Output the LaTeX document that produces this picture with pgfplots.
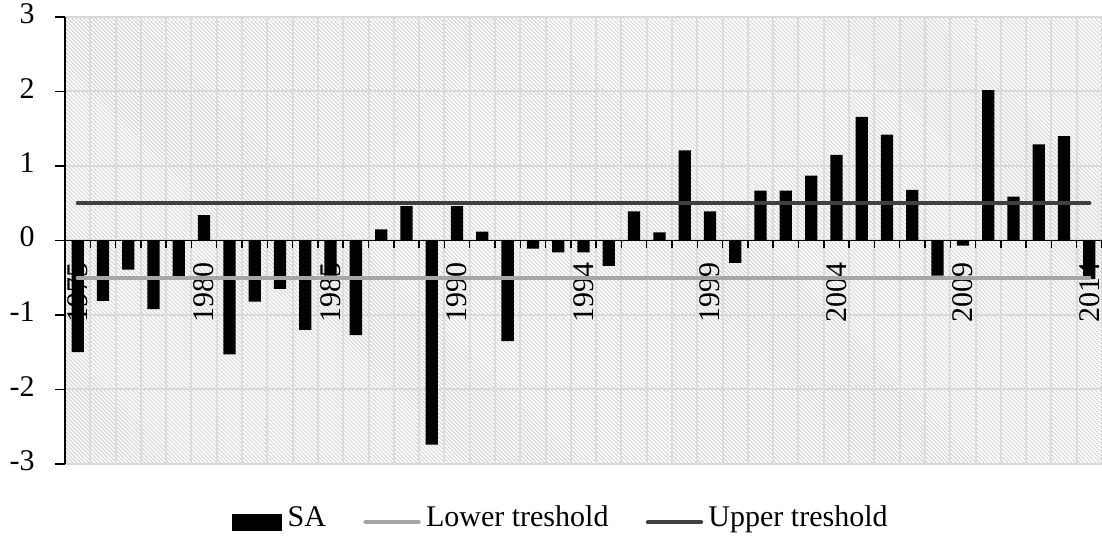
\documentclass[border=0pt]{standalone}
\usepackage{fontspec}
\setmainfont{Liberation Serif}
\usepackage{pgfplots}
\usepackage{pgfplotstable}
\pgfplotsset{compat=1.18}
\usetikzlibrary{patterns.meta}

\definecolor{upperline}{HTML}{404040}
\definecolor{lowerline}{HTML}{A6A6A6}
\definecolor{gridgray}{HTML}{D9D9D9}
\definecolor{vgridgray}{HTML}{DCDCDC}
\definecolor{hatchgray}{HTML}{D2D2D2}

% SA index per year (category 0 = 1975)
\pgfplotstableread{
idx sa
0 -1.50
1 -0.81
2 -0.39
3 -0.92
4 -0.48
5 0.34
6 -1.53
7 -0.82
8 -0.65
9 -1.20
10 -0.47
11 -1.27
12 0.15
13 0.46
14 -2.74
15 0.46
16 0.12
17 -1.35
18 -0.11
19 -0.16
20 -0.16
21 -0.34
22 0.39
23 0.11
24 1.21
25 0.39
26 -0.30
27 0.67
28 0.67
29 0.87
30 1.15
31 1.66
32 1.42
33 0.68
34 -0.47
35 -0.07
36 2.02
37 0.59
38 1.29
39 1.40
40 -0.52
}\satable

\newcommand{\chartfont}{\fontsize{22.5}{27}\selectfont}

\begin{document}
\begin{tikzpicture}
\begin{axis}[
  set layers,
  at={(48.75pt,58.5pt)}, anchor=south west,
  scale only axis, width=777.75pt, height=335.25pt,
  xmin=-0.5, xmax=40.5, ymin=-3, ymax=3,
  axis x line=middle, axis y line=left,
  axis line style={-, black, line width=1.1pt},
  axis background/.style={pattern={Lines[angle=-45,distance=2.12pt,line width=0.7pt]}, pattern color=hatchgray},
  xtick={0,5,...,40},
  xticklabels={1975,1980,1985,1990,1994,1999,2004,2009,2014},
  minor xtick={-0.5,0.5,...,40.5},
  ytick={-3,-2,...,3},
  yticklabels={-3,-2,-1,0,1,2,3},
  major x tick style={draw=none},
  tick align=outside,
  major tick length=7.5pt,
  minor tick length=6pt,
  tick style={black, line width=1.1pt},
  xminorgrids=true, xmajorgrids=false, ymajorgrids=true,
  x grid style={vgridgray, line width=1.5pt},
  y grid style={gridgray, line width=1.5pt},
  tick label style={font=\chartfont},
  xticklabel style={yshift=-9pt, rotate=90, anchor=east, inner sep=0pt},
  yticklabel style={xshift=-15pt, yshift=2.5pt, anchor=east, inner sep=0pt},
  legend columns=-1,
  legend style={draw=none, fill=none,
    at={(axis description cs:0.477,-0.13)}, anchor=center,
    font=\chartfont,
    nodes={inner sep=0pt, text depth=0pt, text height=0.68em},
    /tikz/every odd column/.append style={column sep=4pt},
    /tikz/every even column/.append style={column sep=28pt}},
]
\addplot[ybar, bar width=9.2pt, fill=black, draw=none,
  legend image code/.code={\fill[black] (0pt,-6.4pt) rectangle (38pt,6.4pt);}]
  table[x=idx, y=sa] {\satable};
\addlegendentry{SA}
\addplot[lowerline, line width=3pt, line cap=round,
  legend image code/.code={\draw[lowerline, line width=3pt, line cap=round] (0pt,0pt) -- (40pt,0pt);}]
  coordinates {(0,-0.5) (40,-0.5)};
\addlegendentry{Lower treshold}
\addplot[upperline, line width=3pt, line cap=round,
  legend image code/.code={\draw[upperline, line width=3pt, line cap=round] (0pt,0pt) -- (40pt,0pt);}]
  coordinates {(0,0.5) (40,0.5)};
\addlegendentry{Upper treshold}
\end{axis}
\pgfresetboundingbox
\useasboundingbox (0,0) rectangle (826.5pt,406.5pt);
\end{tikzpicture}
\end{document}
